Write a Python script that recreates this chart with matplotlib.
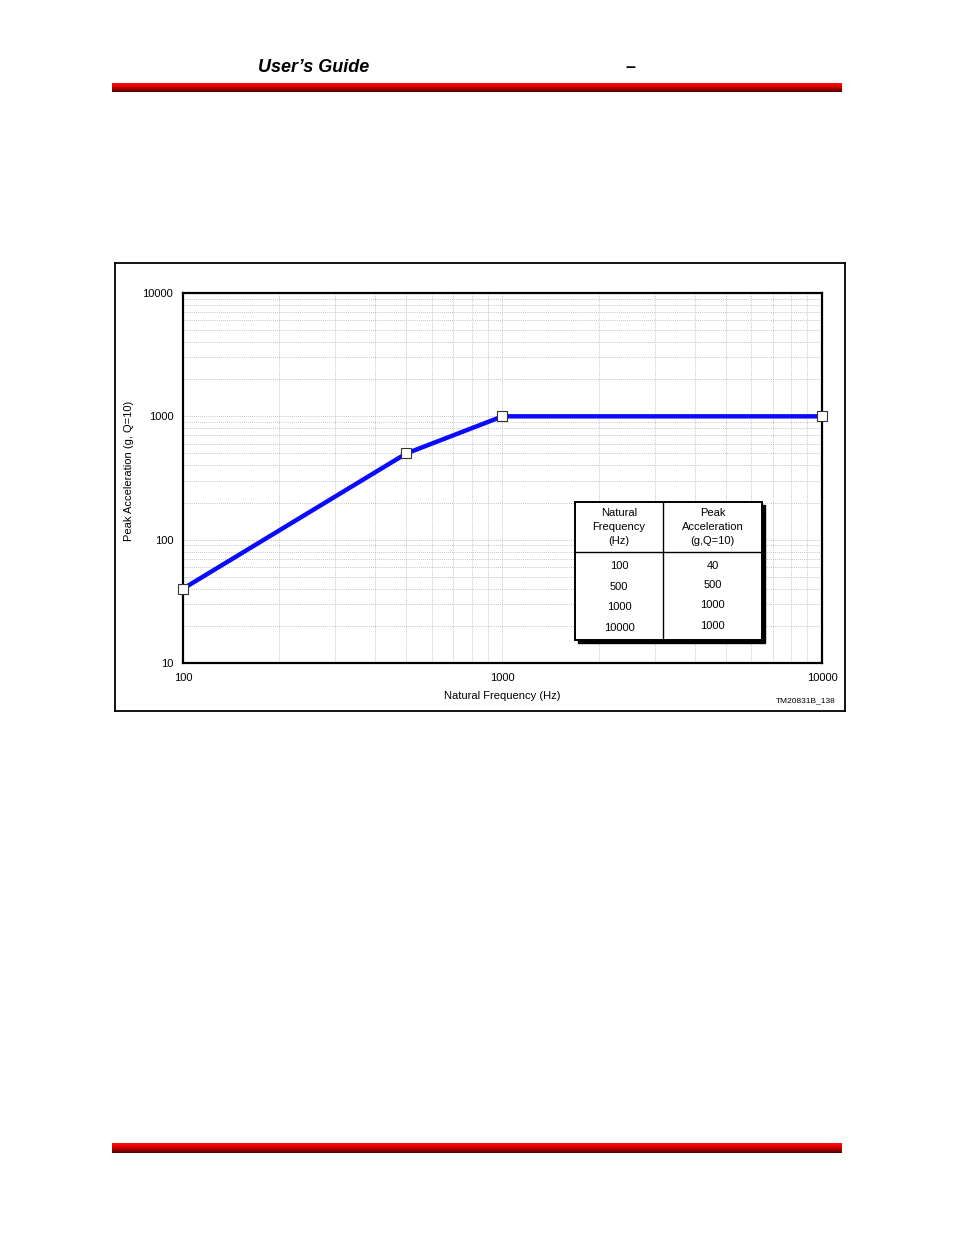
import numpy as np
import matplotlib
matplotlib.use("Agg")
import matplotlib.pyplot as plt
from matplotlib.ticker import LogLocator, FixedLocator, NullFormatter, FixedFormatter
from matplotlib.patches import Rectangle
from matplotlib.colors import LinearSegmentedColormap

freq_hz = [100, 500, 1000, 10000]
peak_accel_g = [40, 500, 1000, 1000]
x_ticks = [100, 1000, 10000]
x_tick_labels = ["100", "1000", "10000"]
y_ticks = [10, 100, 1000, 10000]
y_tick_labels = ["10", "100", "1000", "10000"]
table_header_1 = ["Natural", "Frequency", "(Hz)"]
table_header_2 = ["Peak", "Acceleration", "(g,Q=10)"]
table_freq = ["100", "500", "1000", "10000"]
table_accel = ["40", "500", "1000", "1000"]

NARROW = ["Liberation Sans Narrow", "Liberation Sans", "DejaVu Sans"]
FS = 8

W, H = 954, 1235
fig = plt.figure(figsize=(W / 100, H / 100), dpi=100)

def fx(px):
    return px / W

def fy(py):
    return 1 - py / H

# Header text
fig.text(fx(258), fy(67), "User\u2019s Guide", fontsize=13, fontweight="bold",
         fontstyle="italic", family=["Liberation Sans", "DejaVu Sans"], va="center", ha="left")
fig.text(fx(630), fy(67), "\u2013", fontsize=13, fontweight="bold",
         family=["Liberation Sans", "DejaVu Sans"], va="center", ha="center")

# Red gradient bars
grad = np.linspace(0, 1, 32).reshape(-1, 1)
red_cmap = LinearSegmentedColormap.from_list("rb", ["#ff1010", "#e80000", "#a00000", "#500000"])
for top, bot in [(83, 92), (1143, 1153)]:
    bax = fig.add_axes([fx(112), fy(bot), fx(842) - fx(112), fy(top) - fy(bot)])
    bax.imshow(grad, aspect="auto", cmap=red_cmap, extent=[0, 1, 0, 1])
    bax.axis("off")

# Outer frame box
frame_ax = fig.add_axes([fx(115), fy(711), fx(845) - fx(115), fy(263) - fy(711)])
frame_ax.set_xticks([])
frame_ax.set_yticks([])
for s in frame_ax.spines.values():
    s.set_linewidth(1.3)
    s.set_color("black")
frame_ax.patch.set_alpha(0)

# Main axes
ax = fig.add_axes([fx(183), fy(663), fx(822) - fx(183), fy(293) - fy(663)])
ax.set_xscale("log")
ax.set_yscale("log")
ax.set_xlim(100, 10000)
ax.set_ylim(10, 10000)

ax.xaxis.set_major_locator(FixedLocator(x_ticks))
ax.xaxis.set_major_formatter(FixedFormatter(x_tick_labels))
ax.yaxis.set_major_locator(FixedLocator(y_ticks))
ax.yaxis.set_major_formatter(FixedFormatter(y_tick_labels))
ax.xaxis.set_minor_locator(LogLocator(base=10, subs=np.arange(2, 10)))
ax.yaxis.set_minor_locator(LogLocator(base=10, subs=np.arange(2, 10)))
ax.xaxis.set_minor_formatter(NullFormatter())
ax.yaxis.set_minor_formatter(NullFormatter())
ax.grid(True, which="both", linestyle=(0, (1, 1.5)), color="#b0b0b0", linewidth=0.6)
ax.tick_params(which="both", length=0)
ax.tick_params(axis="x", pad=7)
ax.tick_params(axis="y", pad=7)
for lab in ax.get_xticklabels() + ax.get_yticklabels():
    lab.set_family(NARROW)
    lab.set_fontsize(FS)
for s in ax.spines.values():
    s.set_linewidth(1.6)
    s.set_color("black")

ax.plot(freq_hz, peak_accel_g, color="#0a0aff", linewidth=3.2, zorder=5,
        marker="s", markersize=6.5, markerfacecolor="white", markeredgecolor="#333333",
        markeredgewidth=0.8, clip_on=False)

ax.set_xlabel("Natural Frequency (Hz)", family=NARROW, fontsize=FS, labelpad=6)
fig.text(fx(129), fy(471), "Peak Acceleration (g, Q=10)", rotation=90, family=NARROW,
         fontsize=FS, ha="center", va="center")
fig.text(fx(836), fy(701), "TM20831B_138", family=NARROW, fontsize=6, ha="right", va="center")

# Table inset
tl, tr, tt, tb = 575, 762, 502, 640
fig.patches.append(Rectangle((fx(tl + 3), fy(tb + 3)), fx(tr) - fx(tl), fy(tt) - fy(tb),
                             transform=fig.transFigure, facecolor="black", edgecolor="black",
                             zorder=10))
fig.patches.append(Rectangle((fx(tl), fy(tb)), fx(tr) - fx(tl), fy(tt) - fy(tb),
                             transform=fig.transFigure, facecolor="white", edgecolor="black",
                             linewidth=1.4, zorder=11))
mid = 663
fig.add_artist(plt.Line2D([fx(mid), fx(mid)], [fy(tt), fy(tb)], color="black", lw=1.0,
                          transform=fig.transFigure, zorder=12))
fig.add_artist(plt.Line2D([fx(tl), fx(tr)], [fy(552), fy(552)], color="black", lw=1.0,
                          transform=fig.transFigure, zorder=12))
c1 = (tl + mid) / 2
c2 = (mid + tr) / 2
head_y = [513, 527, 541]
for i in range(3):
    fig.text(fx(c1), fy(head_y[i]), table_header_1[i], family=NARROW, fontsize=FS,
             ha="center", va="center", zorder=13)
    fig.text(fx(c2), fy(head_y[i]), table_header_2[i], family=NARROW, fontsize=FS,
             ha="center", va="center", zorder=13)
row_y1 = [566, 587, 607, 628]
row_y2 = [566, 585, 605, 626]
for i in range(len(table_freq)):
    fig.text(fx(c1), fy(row_y1[i]), table_freq[i], family=NARROW, fontsize=FS,
             ha="center", va="center", zorder=13)
    fig.text(fx(c2), fy(row_y2[i]), table_accel[i], family=NARROW, fontsize=FS,
             ha="center", va="center", zorder=13)

fig.savefig("out.png", dpi=100)
